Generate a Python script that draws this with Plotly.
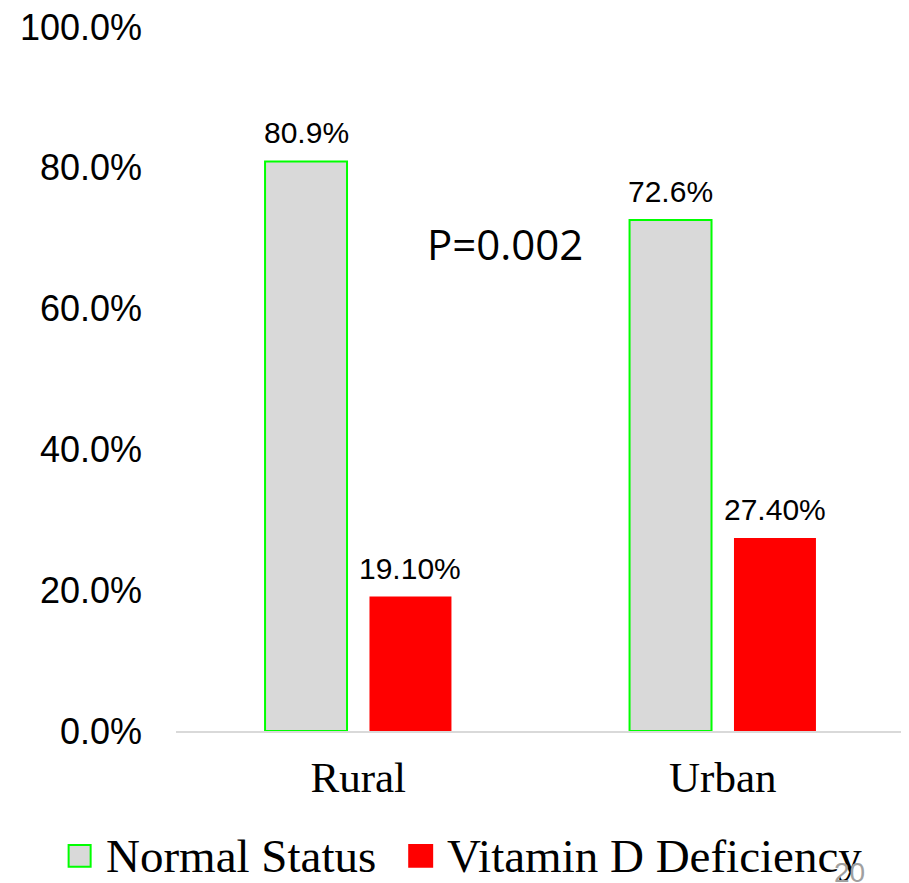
import plotly.graph_objects as go

categories = ["Rural", "Urban"]
normal_values = [0.809, 0.726]
deficiency_values = [0.191, 0.274]
normal_labels = ["80.9%", "72.6%"]
deficiency_labels = ["19.10%", "27.40%"]
series_names = ["Normal Status", "Vitamin D Deficiency"]
y_tick_values = [0, 0.2, 0.4, 0.6, 0.8, 1.0]
y_tick_labels = ["0.0%", "20.0%", "40.0%", "60.0%", "80.0%", "100.0%"]

GRAY = "#d9d9d9"
GREEN = "#00ff00"
RED = "#ff0000"

fig = go.Figure()
fig.add_trace(go.Bar(
    name=series_names[0], x=categories, y=normal_values, showlegend=False,
    marker=dict(color=GRAY, line=dict(color=GREEN, width=2)),
))
fig.add_trace(go.Bar(
    name=series_names[1], x=categories, y=deficiency_values, showlegend=False,
    marker=dict(color=RED, line=dict(color=RED, width=0)),
))

for cat, v, lab in zip(categories, normal_values, normal_labels):
    fig.add_annotation(x=cat, y=v, text=lab, showarrow=False, xshift=-52,
                       yanchor="bottom", yshift=10,
                       font=dict(family="Liberation Sans, Arial", size=30, color="black"))
for cat, v, lab in zip(categories, deficiency_values, deficiency_labels):
    fig.add_annotation(x=cat, y=v, text=lab, showarrow=False, xshift=52,
                       yanchor="bottom", yshift=10,
                       font=dict(family="Liberation Sans, Arial", size=30, color="black"))

fig.add_annotation(x=0.4514, y=0.693, xref="x domain", yref="y", text="P=0.002",
                   showarrow=False, xanchor="center", yanchor="middle",
                   font=dict(family="Open Sans, Noto Sans", size=42, color="black"))

# manual legend
legend_items = [
    (series_names[0], GRAY, GREEN, -0.1473, -0.1171, -0.0993),
    (series_names[1], RED, RED, 0.3199, 0.3514, 0.3692),
]
for name, fill, edge, x0, x1, xt in legend_items:
    fig.add_shape(type="rect", xref="paper", yref="paper", x0=x0, x1=x1,
                  y0=-0.193, y1=-0.162, fillcolor=fill,
                  line=dict(color=edge, width=2))
    fig.add_annotation(x=xt, y=-0.1776, xref="paper", yref="paper", text=name,
                       showarrow=False, xanchor="left", yanchor="middle",
                       font=dict(family="Liberation Serif, Times New Roman", size=47, color="black"))

fig.add_annotation(x=0.924, y=-0.176, xref="paper", yref="paper", yanchor="top",
                   xanchor="center", text="20", showarrow=False,
                   font=dict(family="Liberation Sans", size=28, color="#a0a0a0"))

fig.update_layout(
    width=909, height=883,
    margin=dict(l=167.5, r=11.5, t=19, b=160),
    paper_bgcolor="white", plot_bgcolor="white",
    barmode="group", bargap=0.427, bargroupgap=0.215,
    showlegend=False,
    xaxis=dict(showgrid=False, showline=True, linecolor=GRAY, linewidth=2,
               ticks="", ticklabelstandoff=7, automargin=False,
               tickfont=dict(family="Liberation Serif, Times New Roman", size=43, color="black")),
    yaxis=dict(range=[0, 1], showgrid=False, zeroline=False, showline=False,
               tickvals=y_tick_values, ticktext=y_tick_labels, ticks="",
               ticklabelstandoff=33, automargin=False, ticklabeloverflow="allow",
               tickfont=dict(family="Liberation Sans, Arial", size=36, color="black")),
)

fig.write_html("out.html")
